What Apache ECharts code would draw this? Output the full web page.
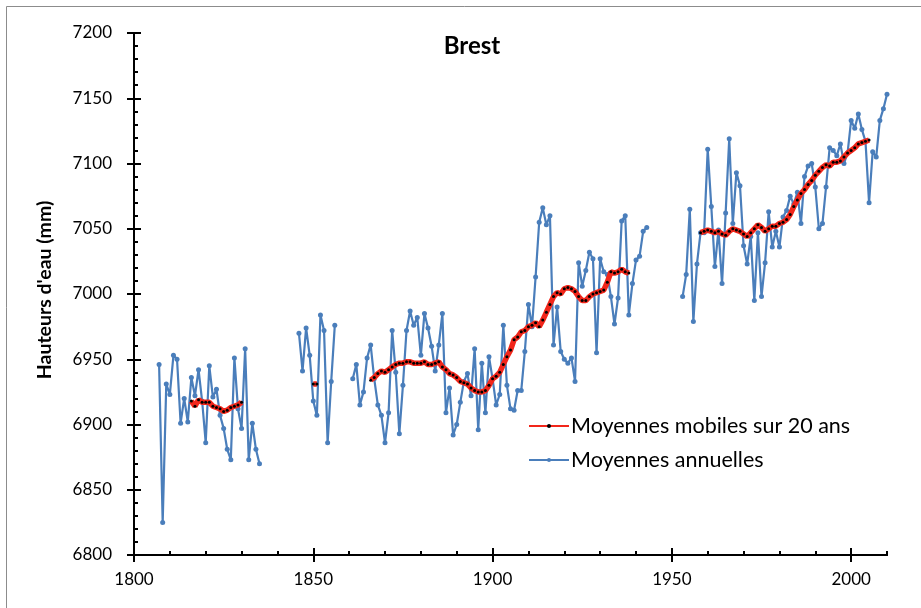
<!DOCTYPE html>
<html>
<head>
<meta charset="utf-8">
<script src="https://cdn.jsdelivr.net/npm/echarts@6/dist/echarts.min.js"></script>
<style>
html,body{margin:0;padding:0;background:#fff;}
#chart{width:921px;height:608px;}
</style>
</head>
<body>
<div id="chart"></div>
<script>
// ---- Data ----
const xTickLabels = [1800, 1850, 1900, 1950, 2000];
const yTickLabels = [6800, 6850, 6900, 6950, 7000, 7050, 7100, 7150, 7200];

// Moyennes annuelles, by continuous segment (first year of each segment)
const annualStartYears = [1807, 1846, 1861, 1953];
const annualA = [6946, 6825, 6931, 6923, 6953, 6950, 6901, 6920, 6902, 6936,
  6922, 6942, 6918, 6886, 6945, 6921, 6927, 6907, 6897, 6881,
  6873, 6951, 6912, 6897, 6958, 6873, 6901, 6881, 6870];
const annualB = [6970, 6941, 6974, 6953, 6918, 6907, 6984, 6972, 6886, 6933, 6976];
const annualC = [6935, 6946, 6915, 6925, 6951, 6961, 6935, 6915, 6907, 6886,
  6909, 6972, 6940, 6893, 6930, 6972, 6987, 6976, 6982, 6953,
  6985, 6974, 6960, 6941, 6961, 6985, 6909, 6928, 6892, 6900,
  6917, 6933, 6939, 6922, 6958, 6896, 6947, 6909, 6952, 6935,
  6915, 6923, 6976, 6930, 6912, 6911, 6926, 6926, 6956, 6992,
  6975, 7013, 7055, 7066, 7053, 7060, 6961, 6990, 6956, 6950,
  6947, 6951, 6933, 7024, 7006, 7018, 7032, 7027, 6955, 7027,
  7017, 7015, 6998, 6977, 6997, 7056, 7060, 6984, 7008, 7026,
  7029, 7048, 7051];
const annualD = [6998, 7015, 7065, 6979, 7023, 7047, 7047, 7111, 7067, 7021,
  7049, 7008, 7062, 7119, 7054, 7093, 7083, 7037, 7023, 7044,
  6995, 7047, 6998, 7024, 7063, 7036, 7048, 7036, 7059, 7064,
  7075, 7069, 7078, 7054, 7090, 7098, 7100, 7082, 7050, 7054,
  7082, 7112, 7110, 7106, 7115, 7100, 7108, 7133, 7127, 7138,
  7126, 7117, 7070, 7109, 7105, 7133, 7142, 7153];

// Moyennes mobiles sur 20 ans, by segment
const mobileStartYears = [1816, 1850, 1866, 1958];
const mobileA = [6918, 6914, 6919, 6917, 6917, 6917, 6914, 6913, 6912, 6910,
  6911, 6913, 6914, 6915, 6917];
const mobileB = [6931, 6931];
const mobileC = [6934, 6936, 6939, 6941, 6940, 6942, 6944, 6946, 6947, 6947,
  6948, 6948, 6947, 6947, 6947, 6948, 6946, 6946, 6947, 6948,
  6944, 6942, 6939, 6938, 6936, 6933, 6932, 6931, 6928, 6926,
  6925, 6925, 6926, 6930, 6935, 6937, 6940, 6946, 6952, 6957,
  6965, 6967, 6971, 6972, 6975, 6976, 6978, 6975, 6980, 6986,
  6992, 6998, 7001, 7000, 7004, 7005, 7004, 7002, 6998, 6995,
  6995, 6998, 7000, 7001, 7002, 7003, 7009, 7017, 7016, 7017,
  7019, 7017, 7016];
const mobileD = [7047, 7048, 7049, 7048, 7047, 7048, 7046, 7045, 7048, 7050,
  7049, 7048, 7046, 7044, 7047, 7050, 7053, 7051, 7048, 7050,
  7052, 7052, 7054, 7055, 7057, 7061, 7067, 7072, 7077, 7080,
  7084, 7087, 7091, 7094, 7097, 7099, 7098, 7101, 7101, 7102,
  7105, 7108, 7110, 7112, 7115, 7116, 7117, 7118];

function buildSeries(starts, segs) {
  const out = [];
  segs.forEach((seg, s) => {
    seg.forEach((v, i) => out.push([starts[s] + i, v]));
    if (s < segs.length - 1) out.push([starts[s] + seg.length, '-']);
  });
  return out;
}
const annualData = buildSeries(annualStartYears, [annualA, annualB, annualC, annualD]);
const mobileData = buildSeries(mobileStartYears, [mobileA, mobileB, mobileC, mobileD]);

const FONT = 'Lato';
const minorX = [];
for (let y = 1800; y <= 2010; y += 10) minorX.push(y);

const gridRect = { left: 134, right: 34, top: 33, bottom: 53, containLabel: false };
const lineBlack = { color: '#000', width: 2 };
const plain = v => String(v);

const chart = echarts.init(document.getElementById('chart'), null, { renderer: 'canvas' });
chart.setOption({
  backgroundColor: '#fff',
  animation: false,
  title: {
    text: 'Brest', left: 467, top: 29, textAlign: 'center',
    textStyle: { fontFamily: FONT, fontWeight: 'bold', fontSize: 24, color: '#000' }
  },
  legend: {
    orient: 'vertical', left: 523, top: 410,
    itemWidth: 40, itemHeight: 5, itemGap: 12,
    data: ['Moyennes mobiles sur 20 ans', 'Moyennes annuelles'],
    textStyle: { fontFamily: FONT, fontSize: 21.5, color: '#000', padding: [0, 0, 0, -3] }
  },
  graphic: [
    { type: 'rect', shape: { x: 6.5, y: 6.5, width: 1000, height: 700 },
      style: { fill: 'none', stroke: '#8c8c8c', lineWidth: 1 }, silent: true, z: -1 },
    { type: 'text', x: 45, y: 290, rotation: Math.PI / 2,
      style: { text: "Hauteurs d'eau (mm)", fontFamily: FONT, fontWeight: 'bold', fontSize: 19.5,
        fill: '#000', textAlign: 'center', textVerticalAlign: 'middle' } }
  ],
  grid: [Object.assign({}, gridRect), Object.assign({}, gridRect), Object.assign({}, gridRect)],
  xAxis: [
    { gridIndex: 0, type: 'value', min: 1800, max: 2010, interval: 50,
      axisLine: { show: true, lineStyle: lineBlack },
      axisTick: { show: true, inside: false, length: 7, lineStyle: lineBlack, customValues: xTickLabels },
      axisLabel: { show: true, margin: 16, fontFamily: FONT, fontSize: 17, color: '#000',
        customValues: xTickLabels, formatter: plain },
      splitLine: { show: false } },
    { gridIndex: 1, type: 'value', min: 1800, max: 2010, interval: 50,
      axisLine: { show: true, lineStyle: lineBlack },
      axisTick: { show: true, inside: true, length: 7, lineStyle: lineBlack, customValues: xTickLabels },
      axisLabel: { show: false }, splitLine: { show: false } },
    { gridIndex: 2, type: 'value', min: 1800, max: 2010, interval: 10,
      axisLine: { show: true, lineStyle: lineBlack },
      axisTick: { show: true, inside: true, length: 4, lineStyle: lineBlack, customValues: minorX },
      axisLabel: { show: false }, splitLine: { show: false } }
  ],
  yAxis: [
    { gridIndex: 0, type: 'value', min: 6800, max: 7200, interval: 50,
      axisLine: { show: true, lineStyle: lineBlack },
      axisTick: { show: true, inside: false, length: 7, lineStyle: lineBlack },
      axisLabel: { show: true, margin: 22, fontFamily: FONT, fontSize: 17, color: '#000', formatter: plain },
      splitLine: { show: false } },
    { gridIndex: 1, type: 'value', min: 6800, max: 7200, interval: 50,
      axisLine: { show: true, lineStyle: lineBlack },
      axisTick: { show: true, inside: true, length: 7, lineStyle: lineBlack },
      axisLabel: { show: false }, splitLine: { show: false } },
    { gridIndex: 2, type: 'value', min: 6800, max: 7200, interval: 10,
      axisLine: { show: true, lineStyle: lineBlack },
      axisTick: { show: true, inside: true, length: 4, lineStyle: lineBlack },
      axisLabel: { show: false }, splitLine: { show: false } }
  ],
  series: [
    { name: 'Moyennes annuelles', type: 'line', xAxisIndex: 0, yAxisIndex: 0,
      data: annualData, connectNulls: false,
      symbol: 'circle', symbolSize: 5, showSymbol: true,
      lineStyle: { color: '#4a7ebb', width: 2.2 },
      itemStyle: { color: '#4a7ebb' }, z: 2 },
    { name: 'Moyennes mobiles sur 20 ans', type: 'line', xAxisIndex: 0, yAxisIndex: 0,
      data: mobileData, connectNulls: false,
      symbol: 'circle', symbolSize: 3, showSymbol: true,
      lineStyle: { color: '#f2261a', width: 5.5 },
      itemStyle: { color: '#000', borderWidth: 0 }, z: 3 }
  ]
});
</script>
</body>
</html>
